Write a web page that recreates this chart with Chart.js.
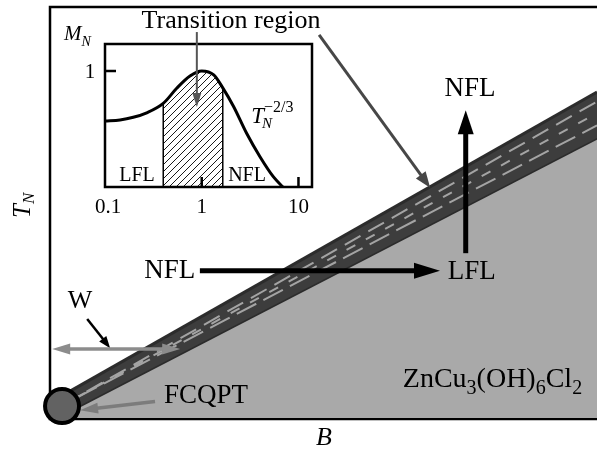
<!DOCTYPE html>
<html>
<head>
<meta charset="utf-8">
<script src="https://cdn.jsdelivr.net/npm/chart.js@4.4.0/dist/chart.umd.min.js"></script>
<style>
  html, body { margin: 0; padding: 0; background: #fff; overflow: hidden; }
  #wrap { position: relative; width: 597px; height: 450px; }
  #main { position: absolute; left: 0; top: 0; }
  #inset { position: absolute; left: 55px; top: 0; }
</style>
</head>
<body>
<div id="wrap">
  <canvas id="main" width="597" height="450"></canvas>
  <canvas id="inset" width="270" height="225"></canvas>
</div>
<script>
// ---- main panel: T_N vs B (relative units 0..1) ----
const bandTopB = [0.015, 1.0];
const bandTopT = [0.049, 0.793];
const bandBotB = [0.033, 1.0];
const bandBotT = [0.015, 0.681];
const strandStart = [0.024, 0.032];
const strandEnds = [0.770, 0.742, 0.712];   // T_N of inner strands at B = 1
const fcqptB = 0.022;
const fcqptT = 0.029;

// ---- inset: M_N vs T_N (log) ----
const insetT = [0.1, 0.143, 0.196, 0.27, 0.4, 0.551, 0.756, 1.0, 1.33, 1.65, 2.14, 2.91, 4.0, 5.49, 6.9];
const insetM = [0.569, 0.578, 0.601, 0.640, 0.721, 0.851, 0.957, 1.0, 0.966, 0.855, 0.692, 0.463, 0.261, 0.089, 0.0];
const transLo = 0.4;
const transHi = 1.65;
const insetTicksX = ['0.1', '1', '10'];
const insetTicksY = ['1'];

const SERIF = '"Liberation Serif", "DejaVu Serif", serif';

function pts(xs, ys) {
  return xs.map(function(x, i) { return { x: x, y: ys[i] }; });
}

// arrow with filled triangle head(s)
function arrow(ctx, x1, y1, x2, y2, o) {
  const ang = Math.atan2(y2 - y1, x2 - x1);
  const cx = Math.cos(ang), sy = Math.sin(ang);
  ctx.save();
  ctx.strokeStyle = o.color;
  ctx.fillStyle = o.color;
  ctx.lineWidth = o.width;
  ctx.lineCap = 'butt';
  ctx.beginPath();
  const sx0 = o.both ? x1 + cx * o.head * 0.8 : x1;
  const sy0 = o.both ? y1 + sy * o.head * 0.8 : y1;
  ctx.moveTo(sx0, sy0);
  ctx.lineTo(x2 - cx * o.head * 0.8, y2 - sy * o.head * 0.8);
  ctx.stroke();
  head(ctx, x2, y2, ang, o.head, o.headW);
  if (o.both) head(ctx, x1, y1, ang + Math.PI, o.head, o.headW);
  ctx.restore();
}

function head(ctx, x, y, ang, hl, hw) {
  const bx = x - Math.cos(ang) * hl, by = y - Math.sin(ang) * hl;
  const px = -Math.sin(ang) * hw / 2, py = Math.cos(ang) * hw / 2;
  ctx.beginPath();
  ctx.moveTo(x, y);
  ctx.lineTo(bx + px, by + py);
  ctx.lineTo(bx - px, by - py);
  ctx.closePath();
  ctx.fill();
}

// text made of pieces: [text, size, dy, italic]
function rich(ctx, parts, x, y, align) {
  ctx.save();
  ctx.fillStyle = '#000';
  ctx.textBaseline = 'alphabetic';
  let w = 0;
  parts.forEach(function(p) {
    ctx.font = (p[3] ? 'italic ' : '') + p[1] + 'px ' + SERIF;
    w += ctx.measureText(p[0]).width;
  });
  let cx = align === 'center' ? x - w / 2 : x;
  parts.forEach(function(p) {
    ctx.font = (p[3] ? 'italic ' : '') + p[1] + 'px ' + SERIF;
    ctx.textAlign = 'left';
    ctx.fillText(p[0], cx, y + p[2]);
    cx += ctx.measureText(p[0]).width;
  });
  ctx.restore();
}

function label(ctx, str, x, y, size) {
  ctx.save();
  ctx.fillStyle = '#000';
  ctx.font = size + 'px ' + SERIF;
  ctx.textAlign = 'center';
  ctx.textBaseline = 'middle';
  ctx.fillText(str, x, y);
  ctx.restore();
}

// hatch pattern for transition region
function hatch() {
  const c = document.createElement('canvas');
  c.width = 7; c.height = 7;
  const g = c.getContext('2d');
  g.strokeStyle = '#1a1a1a';
  g.lineWidth = 1;
  g.beginPath();
  g.moveTo(0, 7); g.lineTo(7, 0);
  g.moveTo(-1, 1); g.lineTo(1, -1);
  g.moveTo(6, 8); g.lineTo(8, 6);
  g.stroke();
  return g.createPattern(c, 'repeat');
}

// ---------------- main chart ----------------
const mainDeco = {
  id: 'mainDeco',
  beforeDatasetsDraw: function(chart) {
    const ctx = chart.ctx, a = chart.chartArea;
    ctx.save();
    ctx.strokeStyle = '#000';
    ctx.lineWidth = 2.5;
    ctx.beginPath();
    ctx.moveTo(a.right + 2, a.top);
    ctx.lineTo(a.left, a.top);
    ctx.lineTo(a.left, a.bottom + 1);
    ctx.lineTo(a.right + 2, a.bottom + 1);
    ctx.stroke();
    ctx.restore();
  },
  afterDatasetsDraw: function(chart) {
    const ctx = chart.ctx, a = chart.chartArea;
    const X = function(v) { return chart.scales.x.getPixelForValue(v); };
    const Y = function(v) { return chart.scales.y.getPixelForValue(v); };

    label(ctx, 'Transition region', X(0.331), Y(0.965), 26);
    arrow(ctx, X(0.492), Y(0.932), X(0.695), Y(0.560), { color: '#474747', width: 3, head: 16, headW: 12 });

    label(ctx, 'NFL', X(0.768), Y(0.800), 27);
    arrow(ctx, X(0.760), Y(0.401), X(0.760), Y(0.749), { color: '#000', width: 5, head: 24, headW: 16 });

    label(ctx, 'NFL', X(0.219), Y(0.358), 27);
    label(ctx, 'LFL', X(0.771), Y(0.355), 27);
    arrow(ctx, X(0.274), Y(0.358), X(0.713), Y(0.358), { color: '#000', width: 5, head: 26, headW: 16 });

    label(ctx, 'W', X(0.055), Y(0.285), 26);
    arrow(ctx, X(0.068), Y(0.241), X(0.110), Y(0.170), { color: '#000', width: 2.5, head: 12, headW: 9 });
    arrow(ctx, X(0.004), Y(0.168), X(0.238), Y(0.168), { color: '#8c8c8c', width: 3.5, head: 18, headW: 11, both: true });

    label(ctx, 'FCQPT', X(0.285), Y(0.054), 27);
    arrow(ctx, X(0.192), Y(0.040), X(0.055), Y(0.019), { color: '#7c7c7c', width: 3.5, head: 18, headW: 11 });

    rich(ctx, [['ZnCu', 28, 0], ['3', 20, 7], ['(OH)', 28, 0], ['6', 20, 7], ['Cl', 28, 0], ['2', 20, 7]],
      X(0.645), Y(0.075), 'left');

    // axis titles
    rich(ctx, [['B', 26, 0, true]], (a.left + a.right) / 2 + 0.5, 445, 'center');
    ctx.save();
    ctx.translate(30, 218);
    ctx.rotate(-Math.PI / 2);
    rich(ctx, [['T', 25, 0, true], ['N', 17, 4, true]], 0, 0, 'left');
    ctx.restore();
  }
};

const strandDash = [[18, 9], [10, 12], [22, 8]];
const strandSets = strandEnds.map(function(t, i) {
  return {
    data: pts([strandStart[0], 1.0], [strandStart[1], t]),
    borderColor: '#a4a4a4',
    borderWidth: 2,
    borderDash: strandDash[i],
    borderDashOffset: i * 7,
    pointRadius: 0,
    fill: false,
    order: 1 + i
  };
});

new Chart(document.getElementById('main'), {
  type: 'line',
  data: {
    datasets: [
      {
        data: pts(bandBotB, bandBotT),
        borderColor: '#2c2c2c',
        borderWidth: 3,
        backgroundColor: '#a9a9a9',
        fill: 'origin',
        pointRadius: 0,
        order: 6
      },
      {
        data: pts(bandTopB, bandTopT),
        borderColor: '#2c2c2c',
        borderWidth: 3,
        backgroundColor: '#3d3d3d',
        fill: '-1',
        pointRadius: 0,
        order: 5
      }
    ].concat(strandSets).concat([
      {
        data: [{ x: fcqptB, y: fcqptT }],
        showLine: false,
        pointRadius: 17,
        pointBackgroundColor: '#626262',
        pointBorderColor: '#000',
        pointBorderWidth: 4,
        clip: false,
        order: 0
      }
    ])
  },
  options: {
    responsive: false,
    animation: false,
    layout: { autoPadding: false, padding: { left: 50, top: 7, right: 0, bottom: 32 } },
    scales: {
      x: { type: 'linear', min: 0, max: 1, display: false },
      y: { type: 'linear', min: 0, max: 1, display: false }
    },
    elements: { line: { tension: 0 } },
    plugins: { legend: { display: false }, tooltip: { enabled: false } }
  },
  plugins: [mainDeco]
});

// ---------------- inset chart ----------------
const curve = pts(insetT, insetM);
const hatched = curve.filter(function(p) { return p.x >= transLo && p.x <= transHi; });
const mLo = insetM[insetT.indexOf(transLo)];
const mHi = insetM[insetT.indexOf(transHi)];

const insetDeco = {
  id: 'insetDeco',
  afterDatasetsDraw: function(chart) {
    const ctx = chart.ctx, a = chart.chartArea;
    const X = function(v) { return chart.scales.x.getPixelForValue(v); };
    const Y = function(v) { return chart.scales.y.getPixelForValue(v); };

    ctx.save();
    ctx.strokeStyle = '#000';
    ctx.lineWidth = 2.5;
    ctx.strokeRect(a.left, a.top, a.right - a.left, a.bottom - a.top);
    // inward ticks
    ctx.beginPath();
    insetTicksX.forEach(function(t) {
      const v = parseFloat(t);
      if (v > 0.1) { ctx.moveTo(X(v), a.bottom); ctx.lineTo(X(v), a.bottom - 10); }
    });
    insetTicksY.forEach(function(t) {
      const v = parseFloat(t);
      ctx.moveTo(a.left, Y(v)); ctx.lineTo(a.left + 11, Y(v));
    });
    ctx.stroke();
    ctx.restore();

    insetTicksX.forEach(function(t) {
      label(ctx, t, X(parseFloat(t)) + (t === '0.1' ? 3 : 0), a.bottom + 20, 21);
    });
    insetTicksY.forEach(function(t) {
      label(ctx, t, a.left - 15, Y(parseFloat(t)) + 1, 21);
    });
    rich(ctx, [['M', 21, 0, true], ['N', 14, 6, true]], a.left - 41, a.top - 4, 'left');

    label(ctx, 'LFL', X(0.214), Y(0.095), 20);
    label(ctx, 'NFL', X(2.94), Y(0.095), 20);

    // T_N^{-2/3}
    const tx = X(3.25), ty = Y(0.555);
    rich(ctx, [['T', 23, 0, true]], tx, ty, 'left');
    ctx.save();
    ctx.font = 'italic 23px ' + SERIF;
    const tw = ctx.measureText('T').width;
    ctx.restore();
    rich(ctx, [['N', 15, 0, true]], tx + tw - 2, ty + 5, 'left');
    rich(ctx, [['\u22122/3', 16, 0, false]], tx + tw, ty - 11, 'left');

    arrow(ctx, X(0.89), Y(1.336), X(0.89), Y(0.69), { color: '#555', width: 2, head: 14, headW: 9 });
  }
};

new Chart(document.getElementById('inset'), {
  type: 'line',
  data: {
    datasets: [
      {
        data: curve,
        borderColor: '#000',
        borderWidth: 3,
        cubicInterpolationMode: 'monotone',
        pointRadius: 0,
        fill: false,
        order: 0
      },
      {
        data: hatched,
        borderWidth: 0,
        borderColor: 'rgba(0,0,0,0)',
        backgroundColor: hatch(),
        cubicInterpolationMode: 'monotone',
        pointRadius: 0,
        fill: 'origin',
        order: 3
      },
      {
        data: [{ x: transLo, y: 0 }, { x: transLo, y: mLo }],
        borderColor: '#000',
        borderWidth: 1.5,
        pointRadius: 0,
        order: 1
      },
      {
        data: [{ x: transHi, y: 0 }, { x: transHi, y: mHi }],
        borderColor: '#000',
        borderWidth: 1.5,
        pointRadius: 0,
        order: 1
      }
    ]
  },
  options: {
    responsive: false,
    animation: false,
    layout: { autoPadding: false, padding: { left: 50, top: 44, right: 13, bottom: 38 } },
    scales: {
      x: { type: 'logarithmic', min: 0.1, max: 13.8, display: false },
      y: { type: 'linear', min: 0, max: 1.233, display: false }
    },
    plugins: { legend: { display: false }, tooltip: { enabled: false } }
  },
  plugins: [insetDeco]
});
</script>
</body>
</html>
